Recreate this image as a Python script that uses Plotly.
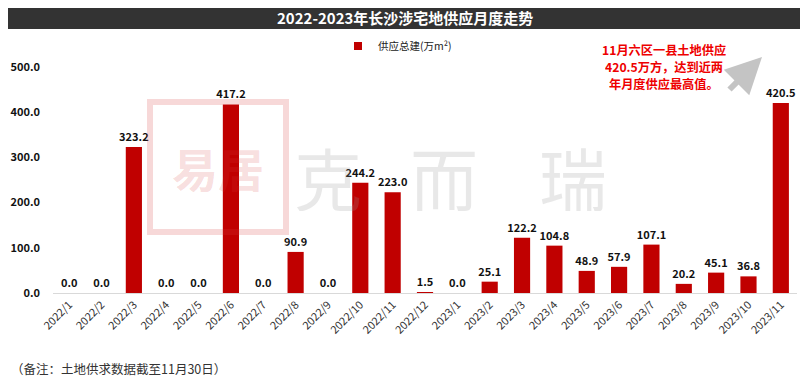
import plotly.graph_objects as go

months = ["2022/1", "2022/2", "2022/3", "2022/4", "2022/5", "2022/6", "2022/7", "2022/8",
          "2022/9", "2022/10", "2022/11", "2022/12", "2023/1", "2023/2", "2023/3", "2023/4",
          "2023/5", "2023/6", "2023/7", "2023/8", "2023/9", "2023/10", "2023/11"]
supply = [0.0, 0.0, 323.2, 0.0, 0.0, 417.2, 0.0, 90.9, 0.0, 244.2, 223.0, 1.5, 0.0, 25.1,
          122.2, 104.8, 48.9, 57.9, 107.1, 20.2, 45.1, 36.8, 420.5]
series_name = "供应总建(万m²)"
title_text = "2022-2023年长沙涉宅地供应月度走势"
callout_lines = ["11月六区一县土地供应", "420.5万方，达到近两", "年月度供应最高值。"]
note_text = "（备注：土地供求数据截至11月30日）"

# page has an 8px body margin; figure sized to fit the 808x386 window
W, H = 800, 378
L, R, T, B = 45, 11, 50, 93
PW, PH = 744, 235
# helpers take window-pixel coordinates
def px_x(x):
    return (x - 53) / PW

def px_y(y):
    return (293 - y) / PH

FONT = "Noto Sans CJK SC"

fig = go.Figure()
fig.add_trace(go.Bar(
    x=months, y=supply, name=series_name, showlegend=False,
    marker=dict(color="#c00000", line=dict(width=0)),
    texttemplate="%{y:.1f}", textposition="outside", cliponaxis=False, constraintext="none",
    textfont=dict(family=FONT, size=11, color="#111111", weight="bold"),
))
fig.add_trace(go.Scatter(
    x=[None], y=[None], mode="markers", name=series_name, showlegend=True,
    marker=dict(symbol="square", size=8, color="#c00000"),
))

shapes = [
    dict(type="rect", xref="paper", yref="paper", x0=px_x(0), x1=px_x(808), y0=px_y(29), y1=px_y(5),
         fillcolor="#333333", line=dict(width=0), layer="above"),
    dict(type="rect", xref="paper", yref="paper", x0=px_x(150), x1=px_x(286), y0=px_y(232), y1=px_y(102),
         fillcolor="rgba(0,0,0,0)", line=dict(color="rgba(215,60,60,0.20)", width=6), layer="above"),
]

annotations = [
    dict(text="<b>" + title_text + "</b>", xref="paper", yref="paper", x=px_x(405), y=px_y(17),
         showarrow=False, font=dict(family=FONT, size=15, color="white"), xanchor="center", yanchor="middle"),
    dict(text=note_text, xref="paper", yref="paper", x=px_x(9), y=px_y(368),
         showarrow=False, font=dict(family=FONT, size=12.5, color="#333333"), xanchor="left", yanchor="middle"),
    dict(text="", xref="paper", yref="paper", x=px_x(762), y=px_y(57), ax=-34, ay=34,
         showarrow=True, arrowhead=2, arrowsize=1.2, arrowwidth=6, arrowcolor="#c4c4c4"),
    dict(text="易居", xref="paper", yref="paper", x=px_x(218), y=px_y(167), showarrow=False,
         font=dict(family=FONT, size=46, color="rgba(215,60,60,0.18)", weight="bold"),
         xanchor="center", yanchor="middle"),
]
for line, cy in zip(callout_lines, [49.5, 66.5, 83.5]):
    annotations.append(dict(text="<b>" + line + "</b>", xref="paper", yref="paper", x=px_x(664), y=px_y(cy),
                            showarrow=False, font=dict(family=FONT, size=12.2, color="#ee0000"),
                            height=15, valign="middle", xanchor="center", yanchor="middle"))
for ch, cx in zip(["克", "而", "瑞"], [328, 444, 573]):
    annotations.append(dict(text=ch, xref="paper", yref="paper", x=px_x(cx), y=px_y(176),
                            showarrow=False, font=dict(family=FONT, size=68, color="rgba(150,150,150,0.22)"),
                            height=70, xanchor="center", yanchor="middle"))

fig.update_layout(
    width=W, height=H,
    margin=dict(l=L, r=R, t=T, b=B, autoexpand=False),
    paper_bgcolor="white", plot_bgcolor="white",
    bargap=0.5,
    showlegend=True,
    legend=dict(orientation="h", x=px_x(338), y=px_y(46), xanchor="left", yanchor="middle",
                itemwidth=30, font=dict(family=FONT, size=10.5, color="#222222"), bgcolor="rgba(0,0,0,0)"),
    xaxis=dict(type="category", tickangle=-45, showgrid=False, showline=True, linecolor="#d9d9d9",
               linewidth=1, ticks="", tickfont=dict(family=FONT, size=11, color="#333333")),
    yaxis=dict(range=[0, 520], dtick=100, tickformat=".1f", showgrid=False, zeroline=False,
               showline=False, ticks="", ticklabelstandoff=12,
               tickfont=dict(family=FONT, size=11, color="#111111", weight="bold")),
    shapes=shapes, annotations=annotations,
    font=dict(family=FONT),
)

fig.write_html("out.html")
